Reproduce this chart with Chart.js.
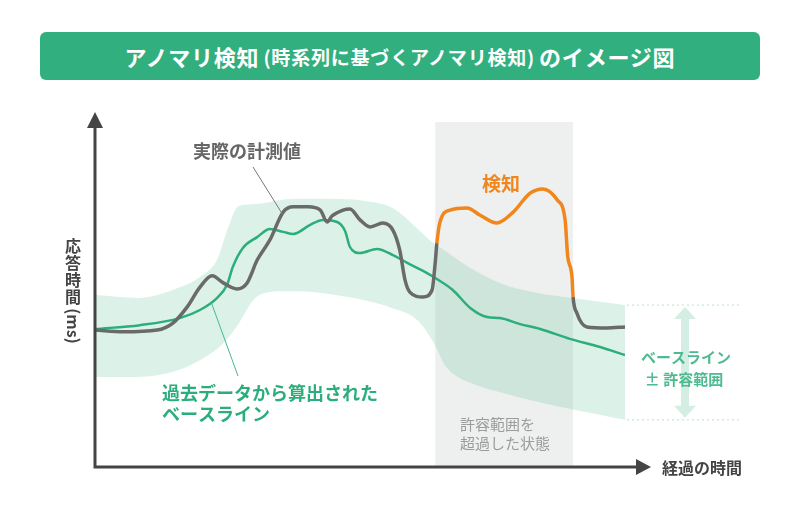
<!DOCTYPE html>
<html lang="ja">
<head>
<meta charset="utf-8">
<script src="https://cdn.jsdelivr.net/npm/chart.js@4.4.1/dist/chart.umd.min.js"></script>
<style>
  body { margin: 0; background: #fff; }
  #wrap { position: relative; width: 800px; height: 512px; font-family: "Noto Sans CJK JP", "Noto Sans", sans-serif; }
  #title {
    position: absolute; left: 40px; top: 32px; width: 720px; height: 48px;
    background: #31af7f; border-radius: 6px; color: #fff;
    display: flex; align-items: center; justify-content: center;
    font-weight: bold; font-size: 22px; letter-spacing: 0.8px;
  }
  #title .sub { font-size: 19px; padding: 0 4px; }
  canvas { position: absolute; left: 0; top: 0; }
</style>
</head>
<body>
<div id="wrap">
  <canvas id="myChart" width="800" height="512"></canvas>
  <div id="title">アノマリ検知<span class="sub">(時系列に基づくアノマリ検知)</span>のイメージ図</div>
</div>
<script>
// time axis (0-100) / response time (0-100)
const actualT = [0, 5.3, 11.7, 14.7, 17.4, 19.8, 22.1, 24.2, 26.8, 28.7, 30.6, 33.0, 35.5, 37.4, 40.2, 42.5, 43.8, 44.7, 46.8, 48.1, 50.0, 51.9, 54.3, 56.2, 57.5, 58.5, 59.4, 61.9, 63.6, 64.2, 64.5, 65.1, 67.0, 70.2, 72.6, 75.8, 78.9, 82.1, 84.5, 87.2, 88.7, 89.2, 90.0, 90.2, 90.9, 92.8, 96.6, 100];
const actualV = [38.9, 38.4, 38.9, 40.9, 45.5, 51.1, 54.3, 52.3, 50.6, 52.3, 58.8, 64.5, 72.4, 73.9, 73.9, 73.0, 69.6, 71.3, 73.0, 73.3, 70.2, 68.2, 69.3, 67.3, 61.6, 53.1, 49.7, 48.3, 50.3, 58.2, 63.6, 69.6, 73.0, 73.6, 71.6, 69.3, 72.4, 77.8, 79.0, 75.9, 70.2, 59.7, 54.0, 48.3, 43.8, 39.8, 39.5, 39.8];

const baseT = [0, 8.5, 16.0, 19.8, 23.0, 24.9, 26.0, 27.9, 30.6, 33.0, 35.5, 37.4, 40.6, 43.0, 45.7, 47.2, 48.1, 50.0, 53.2, 56.2, 58.9, 61.9, 64.5, 67.5, 70.8, 74.0, 76.4, 80.2, 84.0, 89.6, 95.3, 100];
const baseV = [39.2, 40.3, 42.3, 44.6, 48.0, 51.7, 56.8, 62.2, 65.3, 67.6, 66.8, 66.2, 68.8, 70.2, 69.6, 67.0, 62.5, 60.8, 61.9, 60.2, 58.0, 55.7, 53.4, 50.3, 45.2, 42.6, 42.3, 40.6, 39.2, 36.4, 34.1, 31.8];

const bandT = [0, 8, 15, 20, 23, 25, 27, 30, 33, 36, 41, 48, 51, 56, 61, 64, 66, 68, 71, 77, 83, 90, 95, 100];
const bandUpper = [48.9, 48.0, 50.5, 54.2, 58.8, 67.5, 74.0, 74.7, 75.3, 76.1, 76.2, 76.1, 75.6, 73.7, 67.5, 63.4, 61.5, 59.4, 56.4, 51.9, 49.6, 48.0, 47.0, 46.0];
const bandLower = [25.6, 25.6, 27.2, 30.5, 33.5, 36.5, 40.5, 47.6, 49.7, 49.9, 49.7, 48.2, 47.3, 45.2, 41.5, 35.0, 29.0, 26.0, 23.8, 21.0, 18.7, 16.4, 14.9, 13.4];

// anomaly (detected) window
const detectStart = 64.2;
const detectEnd = 90.2;
const detectTop = 98;

const GRAY = "#6a6a6a";
const GREEN = "#2bae7c";
const ORANGE = "#f0861c";
const FONT = "'Noto Sans CJK JP', 'Noto Sans', sans-serif";

const toPts = (xs, ys) => xs.map((x, i) => ({ x: x, y: ys[i] }));

const decorPlugin = {
  id: "decor",
  beforeDatasetsDraw(chart) {
    const { ctx, scales: { x, y } } = chart;
    const x0 = x.getPixelForValue(detectStart);
    const x1 = x.getPixelForValue(detectEnd);
    const yt = y.getPixelForValue(detectTop);
    const yb = y.getPixelForValue(0);
    ctx.save();
    ctx.fillStyle = "#eef0ef";
    ctx.fillRect(x0, yt, x1 - x0, yb - yt);
    ctx.restore();
  },
  afterDatasetsDraw(chart) {
    const { ctx, chartArea: a, scales: { x, y } } = chart;
    ctx.save();
    // axes
    const ox = a.left, oy = y.getPixelForValue(0);
    ctx.strokeStyle = "#444";
    ctx.fillStyle = "#444";
    ctx.lineWidth = 3;
    ctx.beginPath();
    ctx.moveTo(ox, oy + 1.5);
    ctx.lineTo(ox, 124);
    ctx.moveTo(ox - 1.5, oy);
    ctx.lineTo(640, oy);
    ctx.stroke();
    ctx.beginPath();
    ctx.moveTo(ox, 112); ctx.lineTo(ox - 8, 128); ctx.lineTo(ox + 8, 128); ctx.closePath();
    ctx.fill();
    ctx.beginPath();
    ctx.moveTo(651, oy); ctx.lineTo(636, oy - 8); ctx.lineTo(636, oy + 8); ctx.closePath();
    ctx.fill();

    // tolerance range marker on the right
    const yu = y.getPixelForValue(bandUpper[bandUpper.length - 1]);
    const yl = y.getPixelForValue(bandLower[bandLower.length - 1]);
    ctx.strokeStyle = "#b5e2d0";
    ctx.lineWidth = 1;
    ctx.setLineDash([2, 3]);
    ctx.beginPath();
    ctx.moveTo(a.right + 2, yu); ctx.lineTo(742, yu);
    ctx.moveTo(a.right + 2, yl); ctx.lineTo(742, yl);
    ctx.stroke();
    ctx.setLineDash([]);
    ctx.fillStyle = "#d4eee3";
    const ax = 685;
    ctx.fillRect(ax - 4, yu + 12, 8, yl - yu - 24);
    ctx.beginPath();
    ctx.moveTo(ax, yu + 2); ctx.lineTo(ax - 11, yu + 14); ctx.lineTo(ax + 11, yu + 14); ctx.closePath();
    ctx.moveTo(ax, yl - 2); ctx.lineTo(ax - 11, yl - 14); ctx.lineTo(ax + 11, yl - 14); ctx.closePath();
    ctx.fill();

    // leader lines
    ctx.lineWidth = 1;
    ctx.strokeStyle = "#777";
    ctx.beginPath();
    ctx.moveTo(253, 167);
    ctx.lineTo(x.getPixelForValue(35.3), y.getPixelForValue(72.0));
    ctx.stroke();
    ctx.strokeStyle = "#45b88c";
    ctx.beginPath();
    ctx.moveTo(x.getPixelForValue(22.0), y.getPixelForValue(46.5));
    ctx.lineTo(238, 376);
    ctx.stroke();

    // labels
    ctx.textBaseline = "middle";
    ctx.textAlign = "left";
    ctx.font = "bold 18px " + FONT;
    ctx.fillStyle = "#666";
    ctx.fillText("実際の計測値", 193, 151);
    ctx.fillStyle = ORANGE;
    ctx.font = "bold 19px " + FONT;
    ctx.fillText("検知", 482, 184);
    ctx.fillStyle = GREEN;
    ctx.font = "bold 18px " + FONT;
    ctx.fillText("過去データから算出された", 162, 393);
    ctx.fillText("ベースライン", 162, 414);
    ctx.fillStyle = "#9b9b9b";
    ctx.font = "15px " + FONT;
    ctx.fillText("許容範囲を", 460, 424);
    ctx.fillText("超過した状態", 460, 443);
    ctx.fillStyle = "#4dba90";
    ctx.font = "bold 15px " + FONT;
    ctx.textAlign = "center";
    ctx.fillText("ベースライン", 686, 357);
    ctx.fillText("± 許容範囲", 684, 379);

    // axis titles
    ctx.fillStyle = "#444";
    ctx.font = "bold 16px " + FONT;
    ctx.textAlign = "left";
    ctx.fillText("経過の時間", 662, 468);
    ctx.textAlign = "center";
    ["応", "答", "時", "間"].forEach((ch, i) => ctx.fillText(ch, 73, 246 + i * 17));
    ctx.save();
    ctx.translate(73, 326);
    ctx.rotate(Math.PI / 2);
    ctx.fillText("(ms)", 0, 0);
    ctx.restore();
    ctx.restore();
  }
};

const ctx = document.querySelector("canvas#myChart").getContext("2d");
const myChart = new Chart(ctx, {
  type: "line",
  data: {
    datasets: [
      {
        label: "実際の計測値",
        data: toPts(actualT, actualV),
        borderColor: GRAY,
        borderWidth: 3.5,
        cubicInterpolationMode: "monotone",
        segment: {
          borderColor: (c) =>
            c.p0.parsed.x >= detectStart + 0.2 && c.p1.parsed.x <= detectEnd + 0.05 ? ORANGE : GRAY,
        },
        fill: false,
      },
      {
        label: "ベースライン",
        data: toPts(baseT, baseV),
        borderColor: GREEN,
        borderWidth: 2.5,
        cubicInterpolationMode: "monotone",
        fill: false,
      },
      {
        label: "upper",
        data: toPts(bandT, bandUpper),
        borderWidth: 0,
        borderColor: "rgba(0,0,0,0)",
        cubicInterpolationMode: "monotone",
        fill: false,
      },
      {
        label: "lower",
        data: toPts(bandT, bandLower),
        borderWidth: 0,
        borderColor: "rgba(0,0,0,0)",
        backgroundColor: "rgba(46,176,126,0.17)",
        cubicInterpolationMode: "monotone",
        fill: "-1",
      },
    ],
  },
  options: {
    responsive: false,
    animation: false,
    layout: { padding: { left: 95, right: 175, top: 115, bottom: 45 } },
    elements: { point: { radius: 0 } },
    plugins: { legend: { display: false }, tooltip: { enabled: false } },
    scales: {
      x: { type: "linear", min: 0, max: 100, display: false },
      y: { type: "linear", min: 0, max: 100, display: false },
    },
  },
  plugins: [decorPlugin],
});
</script>
</body>
</html>
